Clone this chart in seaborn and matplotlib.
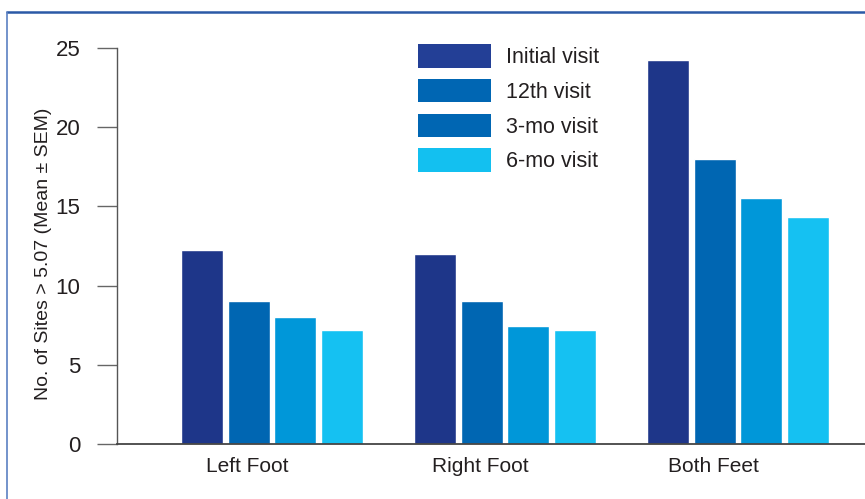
import matplotlib
matplotlib.use("Agg")
import matplotlib.pyplot as plt
from matplotlib.patches import Patch
from matplotlib.lines import Line2D
from matplotlib.transforms import ScaledTranslation
import seaborn as sns
import pandas as pd

# ---------------------------
# Data
# ---------------------------
sites = ["Left Foot", "Right Foot", "Both Feet"]
visits = ["Initial visit", "12th visit", "3-mo visit", "6-mo visit"]
initial_visit = [12.25, 12.0, 24.25]
visit_12th = [9.0, 9.0, 18.0]
visit_3mo = [8.0, 7.45, 15.5]
visit_6mo = [7.2, 7.2, 14.3]
y_ticks = [0, 5, 10, 15, 20, 25]

bar_colors = ["#1e3689", "#0066b2", "#0097d9", "#15c1f2"]
# the printed legend repeats the 12th-visit swatch for 3-mo
legend_colors = ["#233f96", "#0066b3", "#0066b3", "#13c0f0"]

rows = []
for vals, visit in zip([initial_visit, visit_12th, visit_3mo, visit_6mo], visits):
    for site, v in zip(sites, vals):
        rows.append({"site": site, "visit": visit, "value": v})
df = pd.DataFrame(rows)

# ---------------------------
# Plot
# ---------------------------
sns.set_style("white")
plt.rcParams["font.family"] = ["Liberation Sans Narrow", "Liberation Sans", "DejaVu Sans"]
text_color = "#231f20"

fig = plt.figure(figsize=(8.65, 4.99), dpi=100)
ax = fig.add_axes([117 / 865, 55 / 499, 1 - 117 / 865, 396 / 499])

sns.barplot(data=df, x="site", y="value", hue="visit", order=sites,
            hue_order=visits, palette=bar_colors, width=0.8, gap=0.1,
            saturation=1, legend=False, ax=ax)

ax.set_xlim(-0.665, 2.545)
ax.set_ylim(0, 25)
ax.set_yticks(y_ticks)
ax.set_xlabel("")
ax.set_ylabel("No. of Sites > 5.07 (Mean ± SEM)", fontsize=14,
              color=text_color)
ax.yaxis.set_label_coords(-0.087, 0.48)

for side in ["top", "right"]:
    ax.spines[side].set_visible(False)
ax.spines["left"].set_color("#555555")
ax.spines["bottom"].set_color("#444444")
ax.spines["left"].set_linewidth(1.0)
ax.spines["bottom"].set_linewidth(1.3)

ax.tick_params(axis="y", length=14.4, width=1.0, color="#666666",
               pad=12, labelsize=16, labelcolor=text_color, left=True)
ax.tick_params(axis="x", length=0, pad=9, labelsize=15,
               labelcolor=text_color)

# category labels sit a little left of the bar groups in the original
shift = ScaledTranslation(-25 / 100, 0, fig.dpi_scale_trans)
for lab in ax.get_xticklabels():
    lab.set_transform(lab.get_transform() + shift)

handles = [Patch(facecolor=c, edgecolor="none") for c in legend_colors]
ax.legend(handles, visits, loc="upper left",
          bbox_to_anchor=(418 / 865, 1 - 44 / 499),
          bbox_transform=fig.transFigure, frameon=False, fontsize=15.5,
          handlelength=3.4, handleheight=1.31, handletextpad=0.7,
          labelspacing=0.5, borderpad=0, borderaxespad=0,
          labelcolor=text_color)

# frame around the figure panel (as in the cropped source)
fig.add_artist(Line2D([7 / 865, 1], [1 - 12 / 499, 1 - 12 / 499],
                      transform=fig.transFigure, color="#2b59a6", lw=1.8))
fig.add_artist(Line2D([7 / 865, 7 / 865], [0, 1 - 12 / 499],
                      transform=fig.transFigure, color="#5b80c2", lw=1.2))

fig.savefig("out.png", dpi=100)
